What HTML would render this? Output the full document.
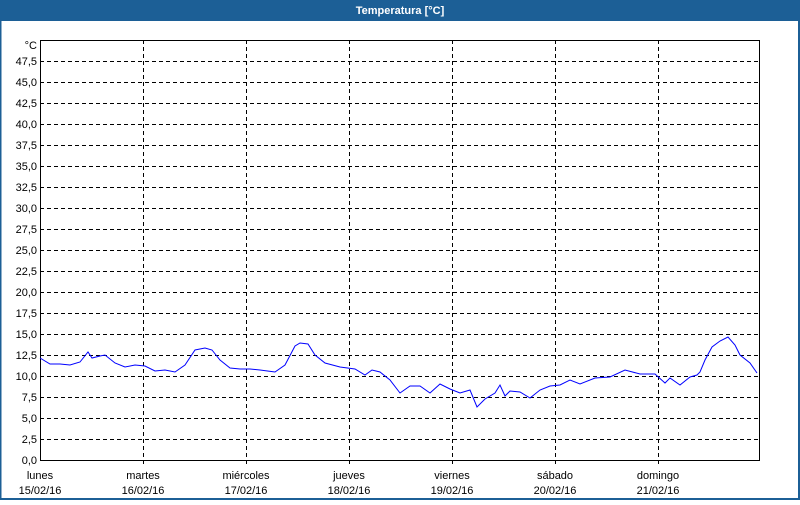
<!DOCTYPE html>
<html><head><meta charset="utf-8"><style>
body{margin:0;width:800px;height:500px;background:#fff;overflow:hidden;font-family:"Liberation Sans",sans-serif}
</style></head><body>
<svg width="800" height="500" xmlns="http://www.w3.org/2000/svg" font-family="Liberation Sans, sans-serif" font-size="11">
<rect x="0" y="0" width="800" height="500" fill="#fff"/>
<rect x="0" y="0" width="800" height="21" fill="#1c5f96"/>
<rect x="0" y="0" width="1.5" height="500" fill="#1c5f96"/>
<rect x="798" y="0" width="2" height="500" fill="#1c5f96"/>
<rect x="0" y="498" width="800" height="2" fill="#1c5f96"/>
<text x="400" y="14" fill="#fff" font-weight="bold" text-anchor="middle">Temperatura [°C]</text>
<g stroke="#000" stroke-dasharray="4,3" stroke-width="1">
<path d="M40 61.5H760M40 82.5H760M40 103.5H760M40 124.5H760M40 145.5H760M40 166.5H760M40 187.5H760M40 208.5H760M40 229.5H760M40 250.5H760M40 271.5H760M40 292.5H760M40 313.5H760M40 334.5H760M40 355.5H760M40 376.5H760M40 397.5H760M40 418.5H760M40 439.5H760"/>
<path d="M143.5 40V465M246.5 40V465M349.5 40V465M452.5 40V465M555.5 40V465M658.5 40V465"/>
</g>
<rect x="40.5" y="40.5" width="719" height="420" fill="none" stroke="#000"/>
<g text-anchor="end">
<text x="37" y="49">°C</text>
<text x="37" y="65">47,5</text><text x="37" y="86">45,0</text><text x="37" y="107">42,5</text><text x="37" y="128">40,0</text><text x="37" y="149">37,5</text><text x="37" y="170">35,0</text><text x="37" y="191">32,5</text><text x="37" y="212">30,0</text><text x="37" y="233">27,5</text><text x="37" y="254">25,0</text><text x="37" y="275">22,5</text><text x="37" y="296">20,0</text><text x="37" y="317">17,5</text><text x="37" y="338">15,0</text><text x="37" y="359">12,5</text><text x="37" y="380">10,0</text><text x="37" y="401">7,5</text><text x="37" y="422">5,0</text><text x="37" y="443">2,5</text><text x="37" y="464">0,0</text>
</g>
<g text-anchor="middle">
<text x="40" y="479">lunes</text><text x="40" y="494">15/02/16</text>
<text x="143" y="479">martes</text><text x="143" y="494">16/02/16</text>
<text x="246" y="479">miércoles</text><text x="246" y="494">17/02/16</text>
<text x="349" y="479">jueves</text><text x="349" y="494">18/02/16</text>
<text x="452" y="479">viernes</text><text x="452" y="494">19/02/16</text>
<text x="555" y="479">sábado</text><text x="555" y="494">20/02/16</text>
<text x="658" y="479">domingo</text><text x="658" y="494">21/02/16</text>
</g>
<polyline fill="none" stroke="#0000ff" stroke-width="1" points="40,358 50,364 60,364 70,365 80,362 88,352 92,358 100,356 105,355 115,363 125,367 135,365 145,366 155,371 165,370 175,372 185,365 195,350 205,348 212,350 220,360 230,368 240,369 250,369 260,370 275,372 285,365 295,346 300,343 308,344 315,355 325,363 340,367 355,369 365,375 372,370 380,372 390,380 400,393 410,386 420,386 430,393 440,384 450,389 460,393 470,390 477,407 485,399 495,393 500,385 505,396 510,391 520,392 530,398 540,390 550,386 560,385 570,380 580,384 595,378 610,377 625,370 640,374 655,374 665,383 670,378 680,385 690,377 697,375 700,372 705,360 712,347 720,341 728,337 735,345 740,355 750,363 757,373"/>
</svg>
</body></html>
